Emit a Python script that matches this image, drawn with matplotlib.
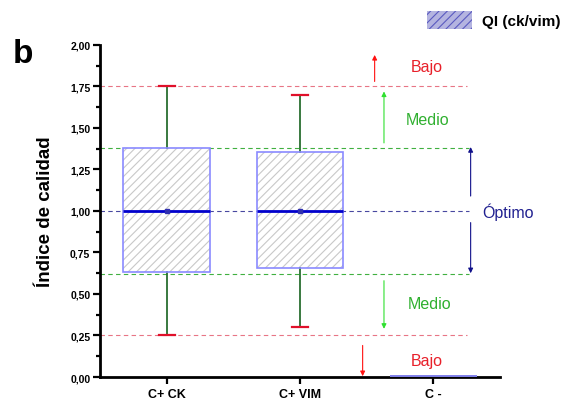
import matplotlib
matplotlib.use("Agg")
import matplotlib.pyplot as plt
from matplotlib.patches import Patch, PathPatch
from matplotlib.ticker import FuncFormatter, MultipleLocator

plt.rcParams['font.family'] = ['Liberation Sans', 'DejaVu Sans']
plt.rcParams['hatch.linewidth'] = 0.8

# data
groups = ['C+ CK', 'C+ VIM', 'C -']
q1 = [0.63, 0.656, 0.005]
median = [1.00, 1.00, 0.005]
q3 = [1.38, 1.355, 0.005]
whis_lo = [0.25, 0.30, 0.005]
whis_hi = [1.75, 1.70, 0.005]
mean = [1.00, 1.00, 0.005]

# quality limits
bajo_hi, bajo_lo = 1.75, 0.25
medio_hi, medio_lo = 1.38, 0.62
optimo = 1.00

fig = plt.figure(figsize=(5.69, 4.02), dpi=100)
ax = fig.add_axes([0.1757, 0.0597, 0.703, 0.826])

stats = []
for i, g in enumerate(groups):
    stats.append(dict(label=g, q1=q1[i], med=median[i], q3=q3[i],
                      whislo=whis_lo[i], whishi=whis_hi[i], mean=mean[i], fliers=[]))

bp = ax.bxp(stats, positions=[1, 2, 3], widths=0.65, patch_artist=True,
            showmeans=True, capwidths=0.12,
            boxprops=dict(facecolor='white', edgecolor='#c8c8c8', linewidth=0, hatch='////'),
            medianprops=dict(color='#0000cc', linewidth=2),
            whiskerprops=dict(color='#2a6e30', linewidth=1.3),
            capprops=dict(color='#e0102a', linewidth=1.6),
            meanprops=dict(marker='s', markersize=3, markerfacecolor='#3030b0',
                           markeredgecolor='#3030b0'))
for box in bp['boxes']:
    box.set_zorder(2)
    ax.add_patch(PathPatch(box.get_path(), fill=False, edgecolor='#8a8aff',
                           linewidth=1.2, zorder=3))
for m in bp['medians']:
    m.set_zorder(4)
for m in bp['means']:
    m.set_zorder(5)
# the empty group shows only a faint line on the axis
bp['medians'][2].set_color('#8080e8')
bp['medians'][2].set_linewidth(1.3)
bp['means'][2].set_visible(False)
for art in bp['caps'][4:] + bp['whiskers'][4:]:
    art.set_visible(False)

# reference lines
ax.hlines([bajo_hi, bajo_lo], 0.5, 3.25, colors='#e87585', linestyles=(0, (4, 3)), linewidth=0.8, zorder=1)
ax.hlines([medio_hi, medio_lo], 0.5, 3.27, colors='#40b040', linestyles=(0, (4, 3)), linewidth=0.8, zorder=1)
ax.hlines([optimo], 0.5, 3.27, colors='#4848a0', linestyles=(0, (4, 3)), linewidth=0.8, zorder=1)

def arrow(x, y0, y1, color):
    ax.annotate('', xy=(x, y1), xytext=(x, y0),
                arrowprops=dict(arrowstyle='-|>', color=color, lw=0.8,
                                mutation_scale=7, shrinkA=0, shrinkB=0),
                annotation_clip=False)

arrow(2.56, 1.78, 1.94, '#ff1010')
arrow(2.63, 1.41, 1.72, '#30e030')
arrow(3.28, 1.09, 1.385, '#10108a')
arrow(3.28, 0.93, 0.625, '#10108a')
arrow(2.63, 0.58, 0.29, '#30e030')
arrow(2.47, 0.19, 0.005, '#ff1010')

tfs = 11.5
ax.text(2.95, 1.87, 'Bajo', color='#e8202a', fontsize=tfs, ha='center', va='center')
ax.text(2.96, 1.55, 'Medio', color='#30b030', fontsize=tfs, ha='center', va='center')
ax.text(3.56, 1.00, 'Óptimo', color='#202090', fontsize=tfs, ha='center', va='center', clip_on=False)
ax.text(2.97, 0.44, 'Medio', color='#30b030', fontsize=tfs, ha='center', va='center')
ax.text(2.95, 0.10, 'Bajo', color='#e8202a', fontsize=tfs, ha='center', va='center')

ax.set_xlim(0.5, 3.5)
ax.set_ylim(0, 2.0)
ax.yaxis.set_major_locator(MultipleLocator(0.25))
ax.yaxis.set_minor_locator(MultipleLocator(0.125))
ax.yaxis.set_major_formatter(FuncFormatter(lambda v, p: f'{v:.2f}'.replace('.', ',')))
ax.set_xticks([1, 2, 3])
ax.set_xticklabels(groups)

for s in ['top', 'right']:
    ax.spines[s].set_visible(False)
for s in ['left', 'bottom']:
    ax.spines[s].set_linewidth(2)
ax.tick_params(axis='y', which='major', direction='out', length=5, width=1.6, labelsize=7.5, pad=2)
ax.tick_params(axis='y', which='minor', direction='out', length=3, width=1.6)
ax.tick_params(axis='x', direction='out', length=5, width=1.6, labelsize=9, pad=3)
for lab in ax.get_xticklabels() + ax.get_yticklabels():
    lab.set_fontweight('bold')

ax.set_ylabel('Índice de calidad', fontsize=13.5, fontweight='bold')
ax.yaxis.set_label_coords(-0.115, 0.5)

fig.text(0.023, 0.843, 'b', fontsize=24, fontweight='bold', ha='left', va='baseline')

handle = Patch(facecolor='#b4b4e0', edgecolor='#5a5ac0', hatch='////', linewidth=0)
fig.legend([handle], ['QI (ck/vim)'], loc='upper right', bbox_to_anchor=(0.995, 0.985),
           frameon=False, prop=dict(size=11, weight='bold'),
           handlelength=2.95, handleheight=1.45, handletextpad=0.6, borderaxespad=0)

fig.savefig('out.png', dpi=100)
